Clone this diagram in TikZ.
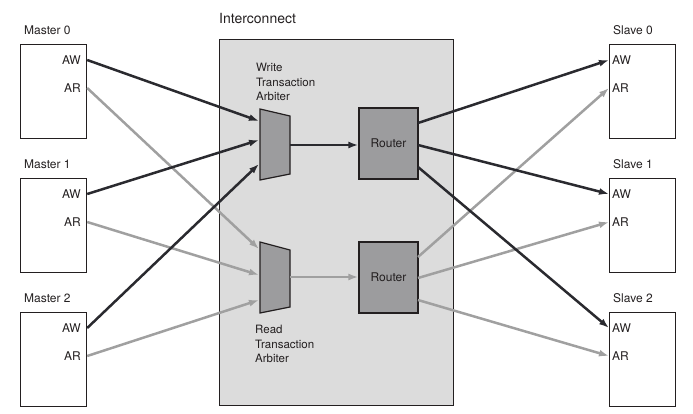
\documentclass[tikz,border=0pt]{standalone}
\usepackage{fontspec}
\setmainfont{TeX Gyre Heros}
\usetikzlibrary{arrows.meta}

\definecolor{ink}{HTML}{231F20}
\definecolor{wline}{HTML}{2A2A2F}
\definecolor{rline}{HTML}{A0A0A0}
\definecolor{icfill}{HTML}{DCDCDC}
\definecolor{blockfill}{HTML}{9C9C9E}

\begin{document}
\begin{tikzpicture}[x = 1pt, y = -1pt, > = {Latex[length = 10pt, width = 7pt]},
	every node/.style = {text = ink, font = \fontsize{12}{14}\selectfont},
	unit/.style = {draw = ink, fill = white, line width = 1.2pt, minimum width = 66pt, minimum height = 94pt, inner sep = 0pt, anchor = north west},
	router/.style = {draw = ink, fill = blockfill, line width = 1.2pt, minimum width = 59pt, minimum height = 71pt, inner sep = 0pt},
	arbiter/.style = {draw = ink, fill = blockfill, line width = 1.2pt},
	wbus/.style = {->, wline, line width = 2.5pt},
	rbus/.style = {->, rline, line width = 2.5pt}]

	\useasboundingbox (0, 0) rectangle (693, 413);

	% Interconnect

	\node [draw = ink, fill = icfill, line width = 1.2pt, minimum width = 234pt, minimum height = 366pt, inner sep = 0pt, anchor = north west] (ic) at (219, 39) {};
	\node [anchor = west, inner sep = 0pt, font = \fontsize{14}{16}\selectfont] (iclab) at (219, 18) {Interconnect};

	% Masters and slaves

	\foreach \i/\y in {0/44, 1/178, 2/312}
	{
		\node [unit] (m\i) at (20, \y) {};
		\node [anchor = base west, inner sep = 0pt] (m\i-lab) at (24, \y - 10) {Master \i};
		\node [anchor = east, inner sep = 0pt] (m\i-aw) at (81, \y + 16) {AW};
		\node [anchor = east, inner sep = 0pt] (m\i-ar) at (81, \y + 44) {AR};

		\node [unit] (s\i) at (609, \y) {};
		\node [anchor = base west, inner sep = 0pt] (s\i-lab) at (613, \y - 10) {Slave \i};
		\node [anchor = west, inner sep = 0pt] (s\i-aw) at (612, \y + 16) {AW};
		\node [anchor = west, inner sep = 0pt] (s\i-ar) at (612, \y + 44) {AR};
	}

	% Arbiters

	\draw [arbiter] (260, 109) -- (290, 116) -- (290, 174) -- (260, 180) -- cycle;
	\draw [arbiter] (260, 242) -- (290, 250) -- (290, 307) -- (260, 313) -- cycle;

	\node [anchor = north west, align = left, inner sep = 0pt, font = \fontsize{11.5}{14.5}\selectfont] (wlab) at (256, 63) {Write\\Transaction\\Arbiter};
	\node [anchor = north west, align = left, inner sep = 0pt, font = \fontsize{11.5}{14.5}\selectfont] (rlab) at (255, 325) {Read\\Transaction\\Arbiter};

	\coordinate (wa-in0) at (259, 121);
	\coordinate (wa-in1) at (259, 140);
	\coordinate (wa-in2) at (259, 164);
	\coordinate (wa-out) at (290, 145);

	\coordinate (ra-in0) at (259, 249);
	\coordinate (ra-in1) at (259, 275);
	\coordinate (ra-in2) at (259, 300);
	\coordinate (ra-out) at (290, 277);

	% Routers

	\node [router] (wrt) at (388.5, 143.5) {Router};
	\node [router] (rrt) at (388.5, 277.5) {Router};

	\coordinate (wrt-o0) at (418, 123);
	\coordinate (wrt-o1) at (418, 145);
	\coordinate (wrt-o2) at (418, 167);

	\coordinate (rrt-o0) at (418, 257);
	\coordinate (rrt-o1) at (418, 278);
	\coordinate (rrt-o2) at (418, 300);

	% Read channel

	\foreach \i in {0, 1, 2}
	{
		\draw [rbus] (m\i.east |- m\i-ar) -- (ra-in\i);
		\draw [rbus] (rrt-o\i) -- (s\i.west |- s\i-ar);
	}
	\draw [rbus] (ra-out) -- (rrt.west |- ra-out);

	% Write channel

	\foreach \i in {0, 1, 2}
	{
		\draw [wbus] (m\i.east |- m\i-aw) -- (wa-in\i);
		\draw [wbus] (wrt-o\i) -- (s\i.west |- s\i-aw);
	}
	\draw [wbus] (wa-out) -- (wrt.west |- wa-out);

\end{tikzpicture}
\end{document}
